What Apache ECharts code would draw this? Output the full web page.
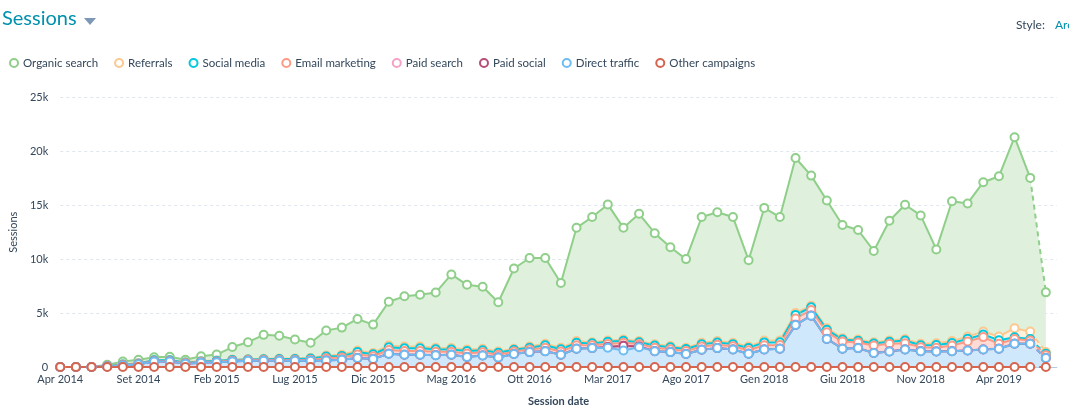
<!DOCTYPE html>
<html><head><meta charset="utf-8">
<script src="https://cdn.jsdelivr.net/npm/echarts@6/dist/echarts.min.js"></script>
<style>html,body{margin:0;padding:0;background:#fff}#c{width:1069px;height:412px}</style>
</head><body><div id="c"></div>
<script>
const seriesNames = ['Organic search','Referrals','Social media','Email marketing','Paid search','Paid social','Direct traffic','Other campaigns'];
const tickLabels = ['Apr 2014','Set 2014','Feb 2015','Lug 2015','Dic 2015','Mag 2016','Ott 2016','Mar 2017','Ago 2017','Gen 2018','Giu 2018','Nov 2018','Apr 2019'];

const organic = [0,0,0,100,250,320,250,300,220,450,
 550,1150,1580,2220,2120,1770,1410,2310,2520,2920,
 2630,4050,4650,4800,5120,6830,5990,5750,4560,7440,
 8200,7950,6000,10500,11600,12620,10350,11800,10280,9160,
 8220,11660,11950,11660,8000,12300,11450,14370,12060,11830,
 10490,10150,8460,11110,12440,11900,8700,12970,12330,13850,
 14850,17700,14250,5540];
const referrals = [0,0,0,10,20,20,30,30,30,30,
 30,40,30,40,40,40,50,100,100,150,
 120,170,170,170,140,130,150,130,120,100,
 110,140,140,150,110,110,120,100,130,110,
 110,130,130,120,130,170,150,170,140,140,
 130,120,120,120,150,130,170,170,220,260,
 350,850,680,160];
const socialMedia = [0,0,0,20,40,40,60,60,60,60,
 60,70,50,70,80,80,100,160,150,230,
 180,250,250,250,220,200,230,200,180,160,
 170,220,210,230,180,200,180,160,210,180,
 190,210,210,200,220,270,250,330,260,230,
 180,150,180,180,250,180,250,230,250,250,
 330,150,150,120];
const emailMarketing = [0,0,0,20,40,40,60,60,60,60,
 60,70,60,70,80,80,100,200,200,300,
 230,330,330,330,300,270,310,270,240,210,
 220,300,280,310,240,260,250,220,290,250,
 260,280,290,270,300,370,340,570,490,600,
 640,500,680,680,550,340,310,500,800,1120,
 430,420,270,260];
const paidSearch = [0,0,0,0,0,0,0,0,0,0,
 0,0,0,0,0,0,0,10,10,20,
 20,20,20,20,20,20,20,20,20,20,
 20,20,20,20,20,20,20,20,20,20,
 20,20,20,20,20,20,20,30,30,30,
 30,30,30,30,30,30,30,30,30,30,
 30,30,30,10];
const paidSocial = [0,0,0,0,0,0,0,0,0,0,
 0,0,0,0,0,0,0,0,0,0,
 0,0,0,0,0,0,0,0,0,0,
 0,0,0,0,0,80,450,60,0,0,
 0,0,0,0,0,0,0,0,0,0,
 0,0,0,0,0,0,0,0,0,0,
 0,0,0,0];
const directTraffic = [0,0,0,50,150,250,500,500,300,400,
 450,520,580,580,580,580,580,600,670,830,
 750,1230,1130,1130,1100,1130,920,1070,880,1200,
 1380,1470,1130,1690,1750,1780,1530,1840,1470,1380,
 1200,1600,1750,1630,1230,1620,1690,3900,4760,2600,
 1690,1750,1290,1440,1620,1470,1440,1470,1530,1620,
 1690,2150,2150,830];
const otherCampaigns = [0,0,0,0,0,0,0,0,0,0,
 0,0,0,0,0,0,0,0,0,0,
 0,0,0,0,0,0,0,0,0,0,
 0,0,0,0,0,0,0,0,0,0,
 0,0,0,0,0,0,0,0,0,0,
 0,0,0,0,0,0,0,0,0,0,
 0,0,0,0];

const valuesByName = {
  'Organic search': organic, 'Referrals': referrals, 'Social media': socialMedia,
  'Email marketing': emailMarketing, 'Paid search': paidSearch, 'Paid social': paidSocial,
  'Direct traffic': directTraffic, 'Other campaigns': otherCampaigns
};
const colors = {
  'Organic search': '#8fcf8a', 'Referrals': '#fcc88e', 'Social media': '#00c9dd',
  'Email marketing': '#fd9a86', 'Paid search': '#f5a2c6', 'Paid social': '#b44f78',
  'Direct traffic': '#6fbcf3', 'Other campaigns': '#d5654f'
};
const areaColors = {
  'Organic search': '#dff0dc', 'Referrals': '#fff0dd', 'Social media': '#b8eff5',
  'Email marketing': '#fedcd5', 'Paid search': '#fbe3ee', 'Paid social': '#e8c1d6',
  'Direct traffic': '#cfe8fb', 'Other campaigns': '#f2d1ca'
};
const FONT = 'Lato, "Noto Sans", sans-serif';
const stackOrder = seriesNames.slice().reverse();
const n = organic.length;
const lastFull = n - 2;

// stacked totals (bottom -> top in reverse legend order)
const cum = {};
let running = new Array(n).fill(0);
stackOrder.forEach(name => {
  running = running.map((v, i) => v + valuesByName[name][i]);
  cum[name] = running.slice();
});

const series = [];
// filled bands: each total filled to the baseline, upper layers drawn first
seriesNames.forEach(name => {
  series.push({
    name, type: 'line', silent: true, z: 1,
    data: cum[name].map((v, i) => [i, v]),
    symbol: 'none', showSymbol: false,
    lineStyle: { width: 0, color: colors[name] },
    itemStyle: { color: colors[name] },
    areaStyle: { color: areaColors[name], opacity: 1, origin: 'start' }
  });
});
// lines + markers, last (partial) month dashed
seriesNames.forEach(name => {
  const c = cum[name];
  series.push({
    name, type: 'line', z: 2, silent: true,
    data: c.slice(0, lastFull + 1).map((v, i) => [i, v]),
    symbol: 'circle', symbolSize: 8, showSymbol: true, showAllSymbol: true,
    lineStyle: { color: colors[name], width: 2 },
    itemStyle: { color: '#fff', borderColor: colors[name], borderWidth: 2 }
  });
  series.push({
    name, type: 'line', z: 2, silent: true,
    data: [{ value: [lastFull, c[lastFull]], symbol: 'none' }, { value: [n - 1, c[n - 1]] }],
    symbol: 'circle', symbolSize: 8, showSymbol: true, showAllSymbol: true,
    lineStyle: { color: colors[name], width: 2, type: [5, 4] },
    itemStyle: { color: '#fff', borderColor: colors[name], borderWidth: 2 }
  });
});

const chart = echarts.init(document.getElementById('c'));
chart.setOption({
  animation: false,
  textStyle: { fontFamily: FONT },
  title: { text: 'Sessions', left: 2, top: 9, padding: 0,
    textStyle: { fontSize: 20, fontWeight: 'normal', color: '#0091ae', fontFamily: FONT } },
  graphic: [
    { type: 'polygon', shape: { points: [[84, 18], [96, 18], [90, 25]] }, style: { fill: '#7c98b6' } },
    { type: 'text', left: 1016, top: 19, style: { text: 'Style:', fill: '#33475b', font: '12px ' + FONT } },
    { type: 'text', left: 1055, top: 19, style: { text: 'Area', fill: '#0091ae', font: '12px ' + FONT } }
  ],
  legend: {
    left: 9, top: 57, padding: 0, itemWidth: 8, itemHeight: 8, itemGap: 16,
    textStyle: { color: '#33475b', fontSize: 11.5, fontFamily: FONT },
    data: seriesNames.map(name => ({
      name, icon: 'circle',
      itemStyle: { color: '#fff', borderColor: colors[name], borderWidth: 2 }
    }))
  },
  grid: { left: 54.3, right: 12.2, top: 97.3, bottom: 43.7 },
  xAxis: {
    type: 'value', min: 0, max: n - 1 + 0.7, interval: 5,
    name: 'Session date', nameLocation: 'middle', nameGap: 29,
    nameTextStyle: { fontSize: 11, fontWeight: 'bold', color: '#33475b', fontFamily: FONT },
    axisLine: { show: true, lineStyle: { color: '#b5cadf', width: 1 } },
    axisTick: { show: false }, splitLine: { show: false },
    axisLabel: {
      color: '#33475b', fontSize: 11, margin: 7, fontFamily: FONT,
      formatter: v => (Number.isInteger(v) && v % 5 === 0 && v / 5 < tickLabels.length) ? tickLabels[v / 5] : ''
    }
  },
  yAxis: {
    type: 'value', min: 0, max: 25000, interval: 5000,
    name: 'Sessions', nameLocation: 'middle', nameGap: 39,
    nameTextStyle: { fontSize: 11, color: '#33475b', fontFamily: FONT },
    axisLine: { show: false }, axisTick: { show: false },
    splitLine: { lineStyle: { type: [3, 3], color: '#dfe6ee' } },
    axisLabel: { color: '#33475b', fontSize: 11, margin: 12, fontFamily: FONT,
      formatter: v => v === 0 ? '0' : (v / 1000) + 'k' }
  },
  series
});
</script></body></html>
